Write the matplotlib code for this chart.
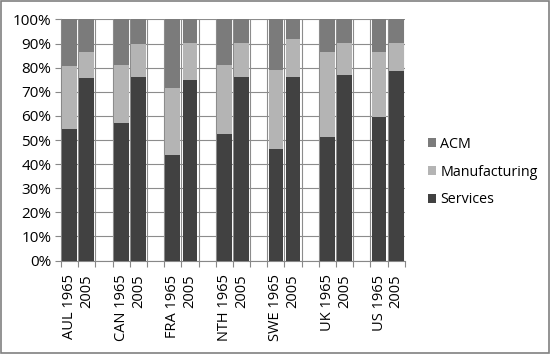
import matplotlib

matplotlib.use("agg")
import matplotlib.pyplot as plt
from matplotlib.patches import Rectangle
import numpy as np

plt.rcParams["font.family"] = ["Open Sans", "DejaVu Sans"]

# Data (percent shares)
countries = ["AUL", "CAN", "FRA", "NTH", "SWE", "UK", "US"]
years = ["1965", "2005"]
services = [54.5, 75.7, 57.2, 76.0, 43.7, 74.8, 52.4, 76.2, 46.4, 76.3, 51.2, 76.8, 59.4, 78.5]
manufacturing = [26.0, 10.8, 23.8, 13.8, 27.7, 15.6, 28.7, 14.2, 32.8, 15.5, 35.2, 13.6, 27.0, 11.6]
acm = [100 - s - m for s, m in zip(services, manufacturing)]

c_serv = "#414141"
c_manu = "#b4b4b4"
c_acm = "#7b7b7b"

# slot positions: two bars per country then a blank slot
pos = []
labels = []
for g, c in enumerate(countries):
    for j, y in enumerate(years):
        pos.append(3 * g + j)
        labels.append(c + " " + y if j == 0 else y)
pos = np.array(pos)

fig = plt.figure(figsize=(5.5, 3.54), dpi=100)
ax = fig.add_axes([0.111, 0.264, 0.625, 0.681])

w = 0.86
ax.bar(pos, services, w, color=c_serv, label="Services", zorder=3)
ax.bar(pos, manufacturing, w, bottom=services, color=c_manu, label="Manufacturing", zorder=3)
ax.bar(pos, acm, w, bottom=np.array(services) + np.array(manufacturing), color=c_acm,
       label="ACM", zorder=3)

ax.set_xlim(-0.5, 19.5)
ax.set_ylim(0, 100)
ax.set_yticks(np.arange(0, 101, 10))
ax.set_yticklabels([f"{v}%" for v in range(0, 101, 10)])

# ticks at slot boundaries, labels at bar centers
ax.set_xticks(np.arange(-0.5, 20, 1))
ax.set_xticklabels([])
ax.set_xticks(pos, minor=True)
ax.set_xticklabels(labels, minor=True, rotation=90, va="top", ha="center")
ax.tick_params(axis="x", which="minor", length=0, pad=10, labelsize=10.5)
ax.tick_params(axis="x", which="major", length=4, color="#888888")
ax.tick_params(axis="y", length=4, color="#888888", pad=3, labelsize=11)

ax.grid(True, which="major", color="#8c8c8c", linewidth=0.8, zorder=0)
for s in ["top", "right"]:
    ax.spines[s].set_visible(False)
ax.spines["left"].set_color("#888888")
ax.spines["bottom"].set_color("#888888")

h, l = ax.get_legend_handles_labels()
ax.legend(h[::-1], l[::-1], loc="center left", bbox_to_anchor=(1.03, 0.367), frameon=False,
          fontsize=10.3, handlelength=0.55, handleheight=0.55, handletextpad=0.3, labelspacing=0.9)

fig.patches.append(Rectangle((0.002, 0.003), 0.996, 0.994, transform=fig.transFigure,
                             fill=False, edgecolor="#808080", linewidth=1.2))

fig.savefig("out.png", dpi=100)
